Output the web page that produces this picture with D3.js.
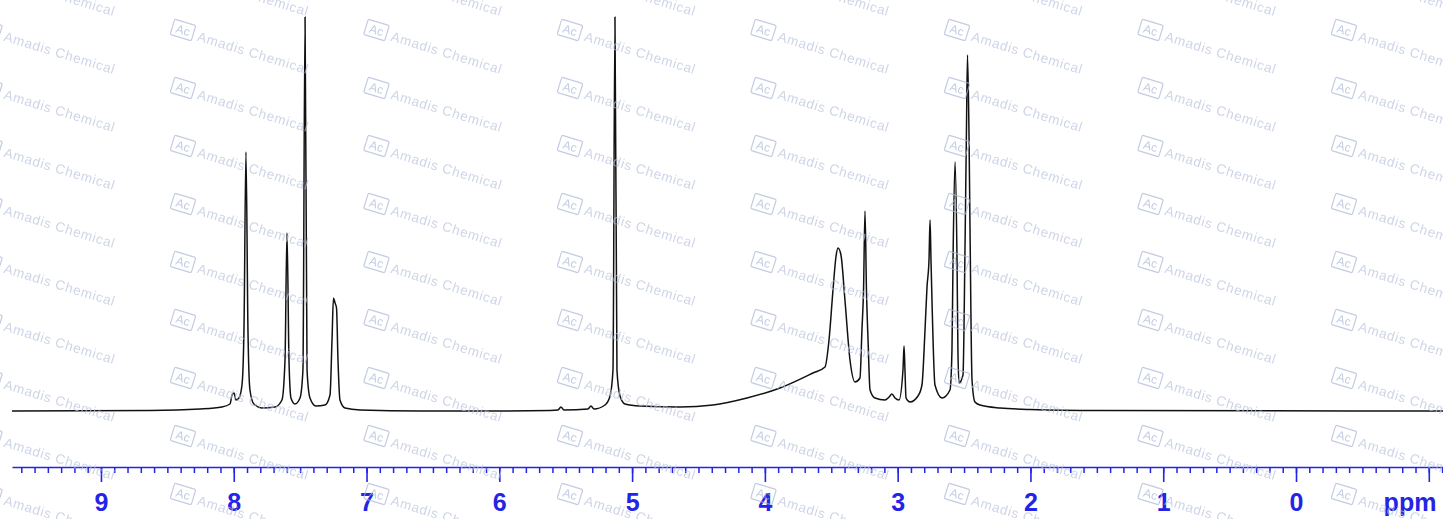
<!DOCTYPE html>
<html>
<head>
<meta charset="utf-8">
<script src="https://cdn.jsdelivr.net/npm/d3@7"></script>
<style>
  html, body { margin: 0; padding: 0; background: #fff; }
  svg { display: block; }
</style>
</head>
<body>
<div id="chart"></div>
<script>
// spectrum trace: chemical shift (ppm) and intensity (arb. units)
const shift = [
  9.670, 8.631, 8.254, 8.089, 8.028, 8.013, 7.998, 7.983, 7.961, 7.938,
  7.923, 7.908, 7.893, 7.878, 7.848, 7.787, 7.689, 7.637, 7.614, 7.599,
  7.584, 7.569, 7.539, 7.501, 7.479, 7.463, 7.448, 7.426, 7.381, 7.313,
  7.275, 7.260, 7.249, 7.237, 7.226, 7.215, 7.200, 7.162, 7.049, 6.597,
  5.995, 5.618, 5.558, 5.536, 5.513, 5.332, 5.310, 5.287, 5.204, 5.166,
  5.144, 5.129, 5.114, 5.091, 5.053, 4.941, 4.639, 4.391, 4.135, 3.886,
  3.638, 3.547, 3.517, 3.487, 3.464, 3.449, 3.427, 3.397, 3.359, 3.321,
  3.284, 3.269, 3.257, 3.246, 3.235, 3.223, 3.208, 3.171, 3.095, 3.065,
  3.043, 3.020, 2.990, 2.960, 2.952, 2.945, 2.937, 2.907, 2.847, 2.817,
  2.794, 2.779, 2.764, 2.756, 2.749, 2.741, 2.719, 2.666, 2.606, 2.591,
  2.583, 2.568, 2.553, 2.546, 2.538, 2.508, 2.493, 2.482, 2.474, 2.463,
  2.455, 2.440, 2.418, 2.380, 2.229, 2.003, 1.476, -1.107
];
const intensity = [
  0, 0.5, 2, 4, 7, 16, 18, 11, 13, 26,
  81, 259, 81, 21, 7, 3, 4, 11, 51, 178,
  51, 13, 7, 13, 41, 394, 41, 13, 5, 6,
  16, 71, 113, 108, 103, 51, 11, 3, 1, 0,
  0, 0.5, 1, 4, 1, 2, 5, 2, 6, 15,
  41, 394, 41, 15, 7, 5, 4, 6, 13, 23,
  38, 44, 71, 121, 155, 163, 156, 111, 51, 29,
  33, 81, 121, 200, 121, 71, 21, 13, 11, 14,
  17, 13, 11, 41, 65, 41, 13, 9, 15, 26,
  81, 124, 151, 191, 151, 108, 26, 13, 21, 61,
  151, 249, 151, 60, 28, 36, 161, 280, 356, 280,
  181, 31, 9, 6, 3, 1.5, 0.5, 0
];

const majorTicks = [9, 8, 7, 6, 5, 4, 3, 2, 1, 0, -1];
const tickLabels = ['9', '8', '7', '6', '5', '4', '3', '2', '1', '0', ''];
const unitLabel = 'ppm';
const watermark = 'Amadis Chemical';

const width = 1443;
const height = 519;
const axisY = 467;
const blue = '#2424e6';

const svg = d3.select('#chart')
  .append('svg')
  .attr('width', width)
  .attr('height', height)
  .attr('viewBox', [0, 0, width, height]);

const x = d3.scaleLinear()
  .domain([9.670, -1.107])
  .range([12, 1443]);

const y = d3.scaleLinear()
  .domain([0, 394])
  .range([411, 17]);

const points = shift.map((s, i) => [s, intensity[i]]);

const line = d3.line()
  .x(d => x(d[0]))
  .y(d => y(d[1]))
  .curve(d3.curveMonotoneX);

svg.append('path')
  .datum(points)
  .attr('fill', 'none')
  .attr('stroke', '#111')
  .attr('stroke-width', 1.5)
  .attr('stroke-linejoin', 'round')
  .attr('d', line);

// minor ticks every 0.1 ppm
const minor = d3.range(-11, 97).map(v => v / 10);
svg.append('g')
  .attr('transform', `translate(0, ${axisY})`)
  .call(d3.axisBottom(x).tickValues(minor).tickSize(6).tickSizeOuter(0).tickFormat(''))
  .call(g => g.selectAll('line, path').attr('stroke', blue).attr('stroke-width', 1.5));

const major = svg.append('g')
  .attr('transform', `translate(0, ${axisY})`)
  .call(d3.axisBottom(x).tickValues(majorTicks).tickSize(15).tickSizeOuter(0)
    .tickFormat((d, i) => tickLabels[i]));
major.select('.domain').remove();
major.selectAll('line').attr('stroke', blue).attr('stroke-width', 1.6);
major.selectAll('text')
  .attr('y', 44)
  .attr('dy', 0)
  .attr('fill', blue)
  .attr('font-family', 'Liberation Sans, Arial, sans-serif')
  .attr('font-weight', 'bold')
  .attr('font-size', 25);

svg.append('text')
  .attr('x', 1410)
  .attr('y', 511)
  .attr('text-anchor', 'middle')
  .attr('fill', blue)
  .attr('font-family', 'Liberation Sans, Arial, sans-serif')
  .attr('font-weight', 'bold')
  .attr('font-size', 25)
  .text(unitLabel);

// watermark grid
const cols = d3.range(8).map(k => -10.5 + 193.5 * k);
const rows = d3.range(10).map(j => -28 + 58 * j);
const marks = svg.append('g').attr('opacity', 0.7);
cols.forEach(cx => rows.forEach(cy => {
  const g = marks.append('g').attr('transform', `translate(${cx}, ${cy}) rotate(17)`);
  g.append('rect')
    .attr('x', -11).attr('y', -8).attr('width', 22).attr('height', 16).attr('rx', 1.5)
    .attr('fill', 'none').attr('stroke', '#a9b6d6').attr('stroke-width', 1.2);
  g.append('text')
    .attr('x', 0).attr('y', 4.5).attr('text-anchor', 'middle')
    .attr('font-family', 'Liberation Sans, Arial, sans-serif').attr('font-size', 12)
    .attr('fill', '#a9b6d6').text('Ac');
  g.append('text')
    .attr('x', 16).attr('y', 6)
    .attr('font-family', 'Liberation Sans, Arial, sans-serif').attr('font-size', 13.5)
    .attr('letter-spacing', 0.7)
    .attr('fill', '#b9c3dc').text(watermark);
}));
</script>
</body>
</html>
